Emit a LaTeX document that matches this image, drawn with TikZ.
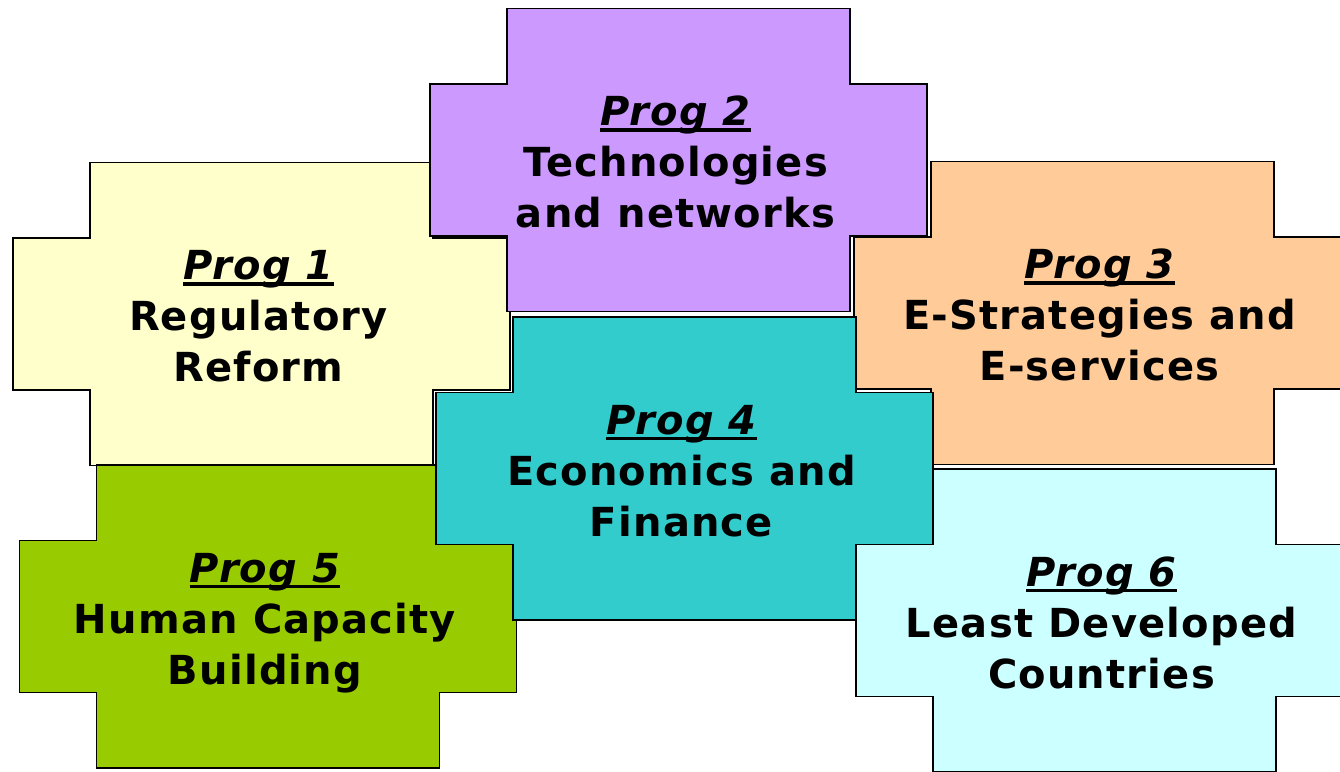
\documentclass[tikz,border=0pt]{standalone}
\usepackage{fontspec}
\setmainfont{DejaVu Sans}[LetterSpace=3]
\definecolor{cyellow}{HTML}{FFFFCC}
\definecolor{cpurple}{HTML}{CC99FF}
\definecolor{cpeach}{HTML}{FFCC99}
\definecolor{cteal}{HTML}{33CCCC}
\definecolor{cgreen}{HTML}{99CC00}
\definecolor{ccyan}{HTML}{CCFFFF}
\newcommand\progul[1]{\setbox0\hbox{#1}\rlap{\rule[-6pt]{\wd0}{3.5pt}}\box0}
\tikzset{
  crossshape/.pic={\path[pic actions] (-171.5,-151.5) -- (171.5,-151.5) -- (171.5,-76) -- (248.5,-76) -- (248.5,76) -- (171.5,76) -- (171.5,151.5) -- (-171.5,151.5) -- (-171.5,76) -- (-248.5,76) -- (-248.5,-76) -- (-171.5,-76) -- cycle;},
  progbox/.style={draw=black, line width=1.8pt, line join=miter},
  progtext/.style={font=\bfseries\fontsize{40}{51}\selectfont, align=center, inner sep=0pt, text depth=0pt}
}
\begin{document}
\begin{tikzpicture}[x=1pt,y=-1pt]
\clip (0,0) rectangle (1340,771);
\fill[white] (0,0) rectangle (1340,771);
% Prog 1
\pic[progbox, fill=cyellow] at (261.5,314) {crossshape};
\node[progtext] (p1) at (258.5,316) {\progul{\itshape Prog 1}\\Regulatory\\Reform};
% Prog 2
\pic[progbox, fill=cpurple] at (678.5,160) {crossshape};
\node[progtext] (p2) at (675.5,162) {\progul{\itshape Prog 2}\\Technologies\\and networks};
% Prog 3
\pic[progbox, fill=cpeach] at (1102.5,313) {crossshape};
\node[progtext] (p3) at (1099.5,315) {\progul{\itshape Prog 3}\\E-Strategies and\\E-services};
% Prog 5
\pic[progbox, fill=cgreen] at (268,616.5) {crossshape};
\node[progtext] (p5) at (265,618.5) {\progul{\itshape Prog 5}\\Human Capacity\\Building};
% Prog 4
\pic[progbox, fill=cteal] at (684.5,468.5) {crossshape};
\node[progtext] (p4) at (681.5,470.5) {\progul{\itshape Prog 4}\\Economics and\\Finance};
% Prog 6
\pic[progbox, fill=ccyan] at (1104.5,620.5) {crossshape};
\node[progtext] (p6) at (1101.5,622.5) {\progul{\itshape Prog 6}\\Least Developed\\Countries};
\end{tikzpicture}
\end{document}
